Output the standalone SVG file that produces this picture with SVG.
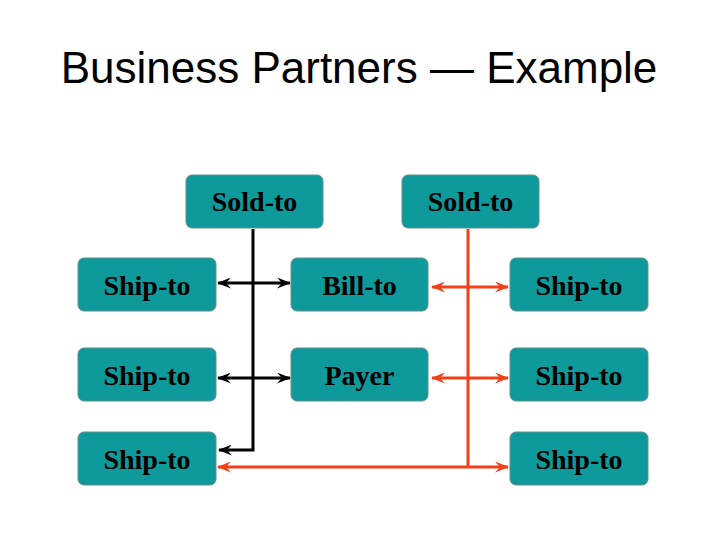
<svg xmlns="http://www.w3.org/2000/svg" width="720" height="540" viewBox="0 0 720 540">
<defs>
<style>
.box{fill:#0e9a9a;stroke:#5f8f8f;stroke-width:1}
.lbl{font-family:"Liberation Serif","Times New Roman",serif;font-weight:bold;font-size:28px;fill:#000;text-anchor:middle}
.blk{stroke:#000;stroke-width:3;fill:none}
.red{stroke:#f2401a;stroke-width:3;fill:none}
</style>
<marker id="ab" viewBox="0 0 14 11" refX="13" refY="5.5" markerWidth="14" markerHeight="11" markerUnits="userSpaceOnUse" orient="auto-start-reverse">
<path d="M0,0 L14,5.5 L0,11 L5,5.5 Z" fill="#000"/>
</marker>
<marker id="ar" viewBox="0 0 14 11" refX="13" refY="5.5" markerWidth="14" markerHeight="11" markerUnits="userSpaceOnUse" orient="auto-start-reverse">
<path d="M0,0 L14,5.5 L0,11 L5,5.5 Z" fill="#f2401a"/>
</marker>
</defs>
<rect width="720" height="540" fill="#fff"/>
<text x="359" y="83" font-family="Liberation Sans, Arial, sans-serif" font-size="44" text-anchor="middle" fill="#000">Business Partners — Example</text>
<g id="connectors">
<path class="blk" d="M253,229 V450 H219" marker-end="url(#ab)"/>
<path class="blk" d="M218,283 H290" marker-start="url(#ab)" marker-end="url(#ab)"/>
<path class="blk" d="M218,378 H290" marker-start="url(#ab)" marker-end="url(#ab)"/>
<path class="red" d="M468,229 V467"/>
<path class="red" d="M432,287 H508" marker-start="url(#ar)" marker-end="url(#ar)"/>
<path class="red" d="M432,378 H508" marker-start="url(#ar)" marker-end="url(#ar)"/>
<path class="red" d="M218,467 H508" marker-start="url(#ar)" marker-end="url(#ar)"/>
</g>
<g id="soldto1"><rect class="box" x="186" y="175" width="137" height="53" rx="6"/><text class="lbl" x="254.5" y="211">Sold-to</text></g>
<g id="soldto2"><rect class="box" x="402" y="175" width="137" height="53" rx="6"/><text class="lbl" x="470.5" y="211">Sold-to</text></g>
<g id="shipto-l1"><rect class="box" x="78" y="258" width="138" height="53" rx="6"/><text class="lbl" x="147" y="295">Ship-to</text></g>
<g id="billto"><rect class="box" x="291" y="258" width="137" height="53" rx="6"/><text class="lbl" x="359.5" y="295">Bill-to</text></g>
<g id="shipto-r1"><rect class="box" x="510" y="258" width="138" height="53" rx="6"/><text class="lbl" x="579" y="295">Ship-to</text></g>
<g id="shipto-l2"><rect class="box" x="78" y="348" width="138" height="53" rx="6"/><text class="lbl" x="147" y="385">Ship-to</text></g>
<g id="payer"><rect class="box" x="291" y="348" width="137" height="53" rx="6"/><text class="lbl" x="359.5" y="385">Payer</text></g>
<g id="shipto-r2"><rect class="box" x="510" y="348" width="138" height="53" rx="6"/><text class="lbl" x="579" y="385">Ship-to</text></g>
<g id="shipto-l3"><rect class="box" x="78" y="432" width="138" height="53" rx="6"/><text class="lbl" x="147" y="469">Ship-to</text></g>
<g id="shipto-r3"><rect class="box" x="510" y="432" width="138" height="53" rx="6"/><text class="lbl" x="579" y="469">Ship-to</text></g>
</svg>
